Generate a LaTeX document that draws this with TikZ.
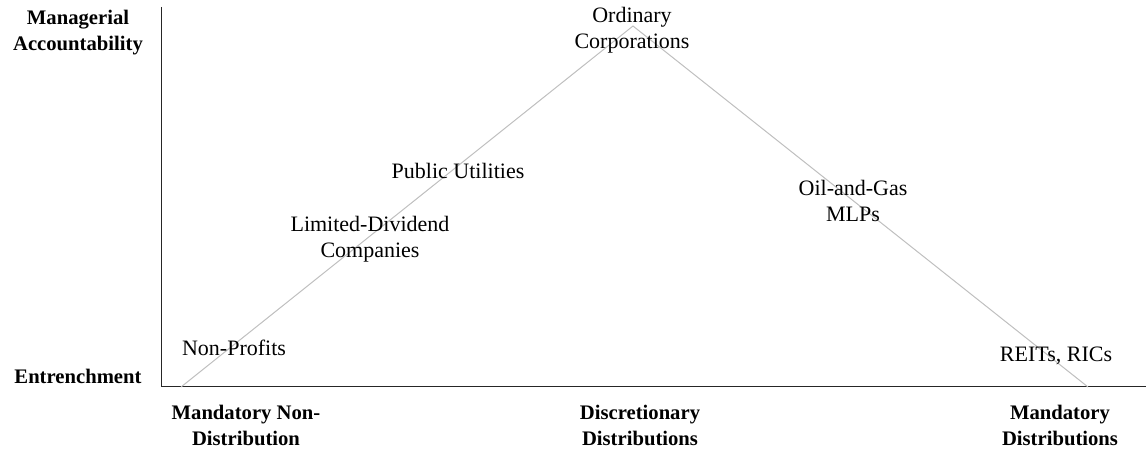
\documentclass[tikz,border=0pt]{standalone}
\usepackage{fontspec}
\setmainfont{Liberation Serif}
\begin{document}
\begin{tikzpicture}
	[x=0.75pt,y=-0.75pt,
	axislabel/.style={font=\fontsize{15.5}{19.5}\selectfont\bfseries,align=center},
	firmlabel/.style={font=\fontsize{16.5}{19.5}\selectfont,align=center},
	axisline/.style={draw=black!85,line width=0.75pt},
	spread/.style={draw=black!25,line width=0.75pt}]
	\useasboundingbox (0,0) rectangle (1146,453);
	% axes
	\coordinate (top) at (161,7);
	\coordinate (origin) at (161,386);
	\coordinate (right) at (1146,386);
	\draw[axisline] (top) -- (origin) -- (right);
	% triangle
	\coordinate (nondist) at (181,387);
	\coordinate (apex) at (633,26);
	\coordinate (mandist) at (1088,387);
	\draw[spread] (nondist) -- (apex) -- (mandist);
	% axis labels
	\node[axislabel] (account) at (78,33) {Managerial\\Accountability};
	\node[axislabel] (entrench) at (78,376) {Entrenchment};
	\node[axislabel] (mandnon) at (246,425) {Mandatory Non-\\Distribution};
	\node[axislabel] (discret) at (640,425) {Discretionary\\Distributions};
	\node[axislabel] (mandatory) at (1060,425) {Mandatory\\Distributions};
	% firm types
	\node[firmlabel] (ordinary) at (632,30) {Ordinary\\Corporations};
	\node[firmlabel] (utilities) at (458,171) {Public Utilities};
	\node[firmlabel] (limited) at (370,239) {Limited-Dividend\\Companies};
	\node[firmlabel] (nonprofit) at (234,348) {Non-Profits};
	\node[firmlabel] (oilgas) at (853,201) {Oil-and-Gas\\MLPs};
	\node[firmlabel] (reits) at (1056,356) {REITs, RICs};
\end{tikzpicture}
\end{document}
